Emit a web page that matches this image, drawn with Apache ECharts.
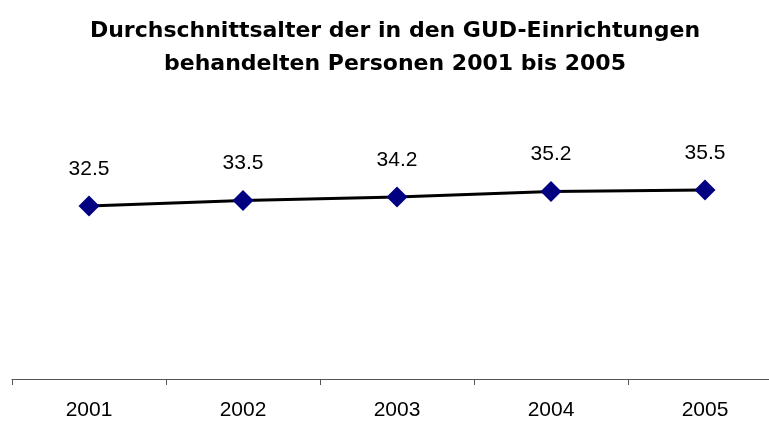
<!DOCTYPE html>
<html>
<head>
<meta charset="utf-8">
<script src="https://cdn.jsdelivr.net/npm/echarts@6/dist/echarts.min.js"></script>
<style>
  html, body { margin: 0; padding: 0; background: #fff; overflow: hidden; }
  #chart { width: 782px; height: 421px; }
</style>
</head>
<body>
<div id="chart"></div>
<script>
// Jahre und Durchschnittsalter
var years = ["2001", "2002", "2003", "2004", "2005"];
var avgAge = [32.5, 33.5, 34.2, 35.2, 35.5];

// die Achse läuft rechts über den Bildrand hinaus, daher ist das div breiter
var myChart = echarts.init(document.getElementById("chart"));
myChart.setOption({
  animation: false,
  title: {
    text: "Durchschnittsalter der in den GUD-Einrichtungen\nbehandelten Personen 2001 bis 2005",
    left: 390,
    textAlign: "center",
    top: 10,
    textStyle: {
      fontFamily: "DejaVu Sans, sans-serif",
      fontWeight: "bold",
      fontSize: 22,
      lineHeight: 33,
      color: "#000"
    }
  },
  grid: { left: 12, top: 166, right: 0, bottom: 39, containLabel: false },
  xAxis: {
    type: "category",
    data: years,
    boundaryGap: true,
    axisLine: { lineStyle: { color: "#555", width: 1 } },
    axisTick: { show: true, length: 6, lineStyle: { color: "#555" } },
    axisLabel: {
      margin: 21,
      fontFamily: "Liberation Sans, Arial, sans-serif",
      fontSize: 21,
      color: "#000"
    }
  },
  yAxis: {
    type: "value",
    min: 0,
    max: 40,
    show: false,
    splitLine: { show: false }
  },
  series: [{
    type: "line",
    data: avgAge,
    symbol: "diamond",
    symbolSize: 21,
    itemStyle: { color: "#000080" },
    lineStyle: { color: "#000", width: 3 },
    label: {
      show: true,
      position: "top",
      distance: 16,
      fontFamily: "Liberation Sans, Arial, sans-serif",
      fontSize: 21,
      color: "#000"
    }
  }]
});
</script>
</body>
</html>
